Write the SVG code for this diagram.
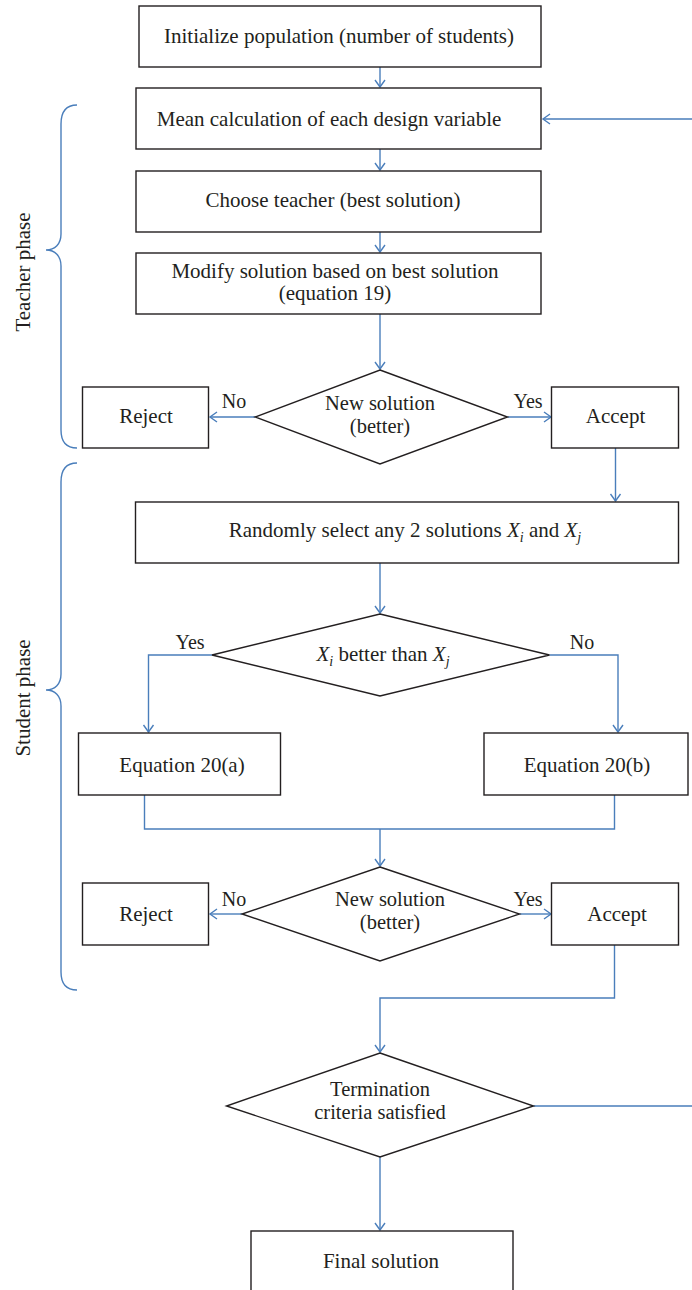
<svg xmlns="http://www.w3.org/2000/svg" width="692" height="1290" viewBox="0 0 692 1290">
<defs>
<style>
.box{fill:#fff;stroke:#231f20;stroke-width:1.4}
.t{font-family:"Liberation Serif","Times New Roman",serif;font-size:21px;fill:#231f20;text-anchor:middle}
.t2{font-family:"Liberation Serif","Times New Roman",serif;font-size:20.5px;fill:#231f20;text-anchor:middle}
.lb{font-family:"Liberation Serif","Times New Roman",serif;font-size:20px;fill:#231f20;text-anchor:middle}
.c{fill:none;stroke:#4a7ebb;stroke-width:1.4}
.it{font-style:italic}
</style>
<marker id="ah" markerUnits="userSpaceOnUse" markerWidth="12" markerHeight="14" viewBox="-9 -7 12 14" refX="0" refY="0" orient="auto">
<path d="M-7,-5 L0,0 L-7,5" fill="none" stroke="#4a7ebb" stroke-width="1.4"/>
</marker>
</defs>
<rect width="692" height="1290" fill="#fff"/>

<g id="connectors">
<path class="c" d="M380,67 V87" marker-end="url(#ah)"/>
<path class="c" d="M380,149 V170" marker-end="url(#ah)"/>
<path class="c" d="M380,232 V252" marker-end="url(#ah)"/>
<path class="c" d="M380,314 V369" marker-end="url(#ah)"/>
<path class="c" d="M255,417 H210" marker-end="url(#ah)"/>
<path class="c" d="M507.5,417 H551" marker-end="url(#ah)"/>
<path class="c" d="M615.5,448 V501" marker-end="url(#ah)"/>
<path class="c" d="M380,563 V613" marker-end="url(#ah)"/>
<path class="c" d="M212,655 H148.5 V732" marker-end="url(#ah)"/>
<path class="c" d="M549.5,655 H618 V732" marker-end="url(#ah)"/>
<path class="c" d="M144.5,795 V829 H614.5 V795"/>
<path class="c" d="M380,829 V866" marker-end="url(#ah)"/>
<path class="c" d="M242,914 H210" marker-end="url(#ah)"/>
<path class="c" d="M519.5,914 H551" marker-end="url(#ah)"/>
<path class="c" d="M614.5,945 V998 H380 V1052" marker-end="url(#ah)"/>
<path class="c" d="M380,1157 V1230" marker-end="url(#ah)"/>
<path class="c" d="M533.5,1106 H720 V119 H543" marker-end="url(#ah)"/>
</g>

<g id="teacher-brace">
<path class="c" d="M77,105 C66,105 61,112 61,124 L61,234 C61,244 55,250 46,250 C55,250 61,256 61,266 L61,430 C61,441 66,448 77,448"/>
<text class="t" transform="translate(30,272) rotate(-90)">Teacher phase</text>
</g>
<g id="student-brace">
<path class="c" d="M77,463 C66,463 61,470 61,482 L61,674 C61,684 55,690 46,690 C55,690 61,696 61,706 L61,972 C61,983 66,990 77,990"/>
<text class="t" transform="translate(30,698) rotate(-90)">Student phase</text>
</g>

<g id="init">
<rect class="box" x="139" y="6" width="402" height="61"/>
<text class="t" x="339" y="43">Initialize population (number of students)</text>
</g>
<g id="mean">
<rect class="box" x="136" y="88" width="405" height="61"/>
<text class="t" x="329" y="126">Mean calculation of each design variable</text>
</g>
<g id="teacher">
<rect class="box" x="136" y="171" width="405" height="61"/>
<text class="t" x="333" y="207">Choose teacher (best solution)</text>
</g>
<g id="modify">
<rect class="box" x="136" y="253" width="405" height="61"/>
<text class="t" x="335" y="278">Modify solution based on best solution</text>
<text class="t" x="335" y="300">(equation 19)</text>
</g>
<g id="decision1">
<polygon class="box" points="380,370 507.5,417 380,464 255,417"/>
<text class="t2" x="380" y="410">New solution</text>
<text class="t2" x="380" y="433">(better)</text>
<text class="lb" x="234" y="408">No</text>
<text class="lb" x="528" y="408">Yes</text>
</g>
<g id="reject1">
<rect class="box" x="82.5" y="387" width="126" height="61"/>
<text class="t" x="146" y="423">Reject</text>
</g>
<g id="accept1">
<rect class="box" x="551.5" y="387" width="127" height="61"/>
<text class="t" x="615.5" y="423">Accept</text>
</g>
<g id="select">
<rect class="box" x="135.5" y="502" width="543" height="61"/>
<text class="t" x="405" y="537">Randomly select any 2 solutions <tspan class="it">X</tspan><tspan class="it" font-size="14" dy="5">i</tspan><tspan dy="-5"> and </tspan><tspan class="it">X</tspan><tspan class="it" font-size="14" dy="5">j</tspan></text>
</g>
<g id="decision2">
<polygon class="box" points="380,614 549.5,655 380,696 212,655"/>
<text class="t" x="383" y="661"><tspan class="it">X</tspan><tspan class="it" font-size="14" dy="5">i</tspan><tspan dy="-5"> better than </tspan><tspan class="it">X</tspan><tspan class="it" font-size="14" dy="5">j</tspan></text>
<text class="lb" x="190" y="649">Yes</text>
<text class="lb" x="582" y="649">No</text>
</g>
<g id="eq20a">
<rect class="box" x="78.5" y="733" width="202" height="62"/>
<text class="t" x="182" y="772">Equation 20(a)</text>
</g>
<g id="eq20b">
<rect class="box" x="484" y="733" width="204" height="62"/>
<text class="t" x="587" y="772">Equation 20(b)</text>
</g>
<g id="decision3">
<polygon class="box" points="380,867 519.5,914 380,961 242,914"/>
<text class="t2" x="390" y="906">New solution</text>
<text class="t2" x="390" y="929">(better)</text>
<text class="lb" x="234" y="906">No</text>
<text class="lb" x="528" y="906">Yes</text>
</g>
<g id="reject2">
<rect class="box" x="82.5" y="883" width="126" height="62"/>
<text class="t" x="146" y="921">Reject</text>
</g>
<g id="accept2">
<rect class="box" x="551.5" y="883" width="127" height="62"/>
<text class="t" x="617" y="921">Accept</text>
</g>
<g id="termination">
<polygon class="box" points="380,1053 533.5,1106 380,1157 226.5,1106"/>
<text class="t2" x="380" y="1096">Termination</text>
<text class="t2" x="380" y="1119">criteria satisfied</text>
</g>
<g id="final">
<rect class="box" x="251" y="1231" width="262" height="90"/>
<text class="t" x="381" y="1268">Final solution</text>
</g>
</svg>
